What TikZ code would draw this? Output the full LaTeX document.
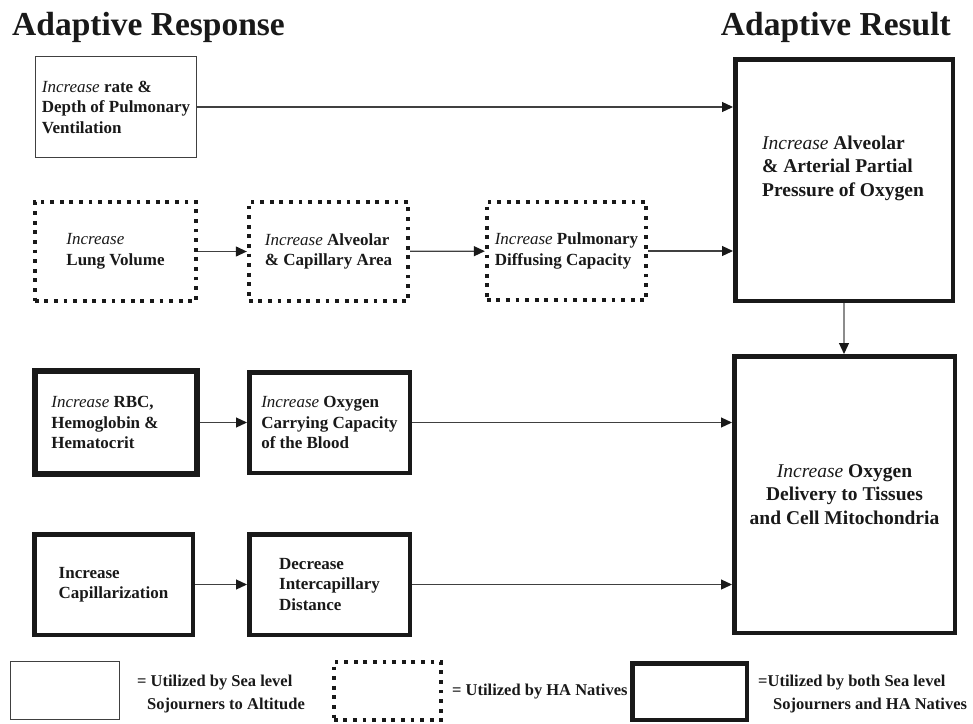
\documentclass[tikz,border=0pt]{standalone}
\usepackage{fontspec}
\setmainfont{Liberation Serif}
\usetikzlibrary{arrows.meta}
\newcommand{\inc}{\textnormal{\itshape Increase}}
\begin{document}
\begin{tikzpicture}[x=1pt,y=-1pt,
  every node/.style={inner sep=0pt},
  boxtxt/.style={font=\fontsize{17}{20.5}\selectfont\bfseries, align=left, text=black!90},
  bigtxt/.style={font=\fontsize{19.5}{23.5}\selectfont\bfseries, text=black!90},
  legtxt/.style={font=\fontsize{16.5}{22.5}\selectfont\bfseries, align=left, anchor=west, text=black!90},
  thinbox/.style={boxtxt, draw=black!75, line width=1pt},
  dotbox/.style={boxtxt, draw=black!90, line width=3.8pt, dash pattern=on 3.8pt off 5.8pt},
  thickbox/.style={boxtxt, draw=black!90, line width=4.5pt},
  heavybox/.style={boxtxt, draw=black!90, line width=6pt},
  arr/.style={draw=black!75, line width=1.2pt, -{Triangle[length=11pt,width=10pt,color=black!90]}},
  varr/.style={draw=black!45, line width=1.2pt, -{Triangle[length=11pt,width=10pt,color=black!90]}},
  ttl/.style={font=\fontsize{33.5}{38}\selectfont\bfseries, text=black!90}
]
\useasboundingbox (0,0) rectangle (973,723);

% titles
\node[ttl, anchor=base west] (t1) at (12,35) {Adaptive Response};
\node[ttl, anchor=base east] (t2) at (951,35) {Adaptive Result};

% row 1
\node[thinbox, minimum width=161pt, minimum height=101pt] (b1) at (116,107)
  {\inc{} rate \&\\Depth of Pulmonary\\Ventilation};

% row 2
\node[dotbox, minimum width=161.5pt, minimum height=99.5pt] (d1) at (115.5,251.5)
  {\inc\\Lung Volume};
\node[dotbox, minimum width=159.5pt, minimum height=99.5pt] (d2) at (328.5,251.5)
  {\inc{} Alveolar\\\& Capillary Area};
\node[dotbox, minimum width=159.5pt, minimum height=98.5pt] (d3) at (566.5,251)
  {\inc{} Pulmonary\\Diffusing Capacity};

% right boxes
\node[thickbox, minimum width=217.5pt, minimum height=241.5pt] (r1) at (844,180) {};
\node[bigtxt, align=left] (r1t) at (843,168)
  {\inc{} Alveolar\\\& Arterial Partial\\Pressure of Oxygen};
\node[thickbox, bigtxt, align=center, minimum width=220.5pt, minimum height=276.5pt] (r2) at (844.5,494.5)
  {\inc{} Oxygen\\Delivery to Tissues\\and Cell Mitochondria};

% row 3
\node[heavybox, minimum width=162pt, minimum height=103pt] (c1) at (116,422.5)
  {\inc{} RBC,\\Hemoglobin \&\rule{22pt}{0pt}\\Hematocrit};
\node[thickbox, minimum width=160.5pt, minimum height=100.5pt] (c2) at (329.5,422.5)
  {\inc{} Oxygen\\Carrying Capacity\\of the Blood};

% row 4
\node[thickbox, minimum width=158.5pt, minimum height=100.5pt] (e1) at (113.5,584.5)
  {Increase\\Capillarization};
\node[thickbox, minimum width=160.5pt, minimum height=100.5pt] (e2) at (329.5,584.5)
  {Decrease\\Intercapillary\\Distance};

% connectors
\draw[arr] (b1.east) -- (b1.east -| r1.west);
\draw[arr] (d1) -- (d2);
\draw[arr] (d2) -- (d3);
\draw[arr] (d3.east) -- (d3.east -| r1.west);
\draw[arr] (c1) -- (c2);
\draw[arr] (c2.east) -- (c2.east -| r2.west);
\draw[arr] (e1) -- (e2);
\draw[arr] (e2.east) -- (e2.east -| r2.west);
\draw[varr] (r1.south) -- (r1.south |- r2.north);

% legend
\node[thinbox, minimum width=109pt, minimum height=58pt] (L1) at (65,690.5) {};
\node[legtxt] (L1t) at (137,694) {= Utilized by Sea level\\\rule{10pt}{0pt}Sojourners to Altitude};
\node[dotbox, minimum width=107.5pt, minimum height=58.5pt] (L2) at (387.5,691) {};
\node[legtxt] (L2t) at (452,692) {= Utilized by HA Natives};
\node[thickbox, minimum width=114.5pt, minimum height=56.5pt] (L3) at (689.5,691.5) {};
\node[legtxt] (L3t) at (758,694) {=Utilized by both Sea level\\\rule{15pt}{0pt}Sojourners and HA Natives};
\end{tikzpicture}
\end{document}
